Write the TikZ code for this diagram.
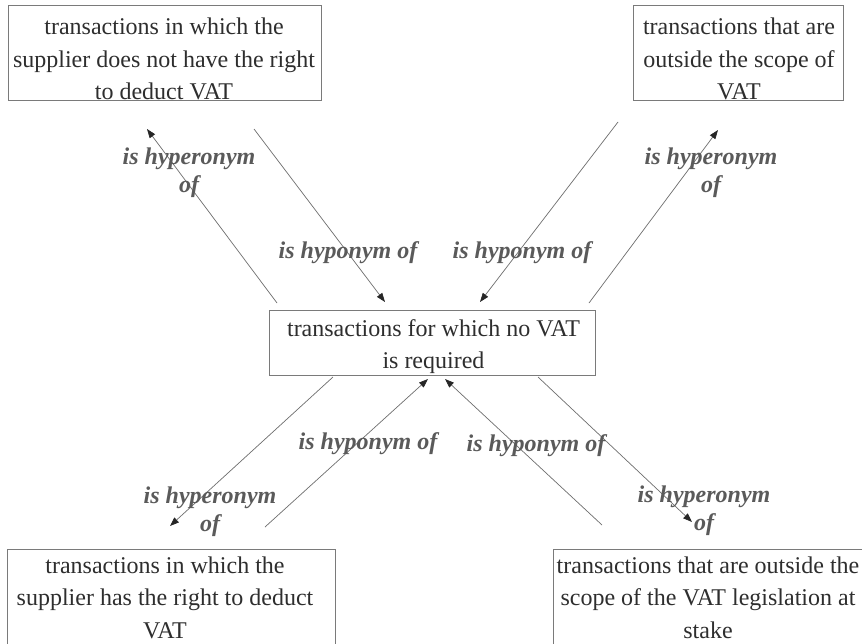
\documentclass[tikz,border=0pt]{standalone}
\usepackage{fontspec}
\setmainfont{Liberation Serif}
\usetikzlibrary{arrows.meta}
\definecolor{boxline}{HTML}{7A7A7A}
\definecolor{boxtxt}{HTML}{2E2E2E}
\definecolor{labtxt}{HTML}{5A5A5A}
\definecolor{conline}{HTML}{6E6E6E}
\definecolor{tipcol}{HTML}{262626}
\tikzset{
  box/.style={draw=boxline, line width=0.9pt, rectangle, inner sep=0pt},
  boxtext/.style={text=boxtxt, align=center, inner sep=0pt, font=\fontsize{24}{32.5}\selectfont},
  lab/.style={text=labtxt, align=center, inner sep=0pt, font=\fontsize{24}{28}\selectfont\bfseries\itshape},
  conn/.style={draw=conline, line width=0.7pt, -{Triangle[length=9pt,width=6.5pt,color=tipcol,fill=tipcol]}}
}
\begin{document}
\begin{tikzpicture}[x=1pt,y=-1pt]
\useasboundingbox (0,0) rectangle (862,643);
\fill[white] (0,0) rectangle (862,643);

% boxes
\node[box, minimum width=313pt, minimum height=95pt] (b1) at (164.5,52.5) {};
\node[box, minimum width=210pt, minimum height=95pt] (b2) at (738,52.5) {};
\node[box, minimum width=326pt, minimum height=65pt] (b0) at (432.5,343) {};
\node[box, minimum width=328pt, minimum height=110pt] (b3) at (171,604) {};
\node[box, minimum width=330pt, minimum height=110pt] (b4) at (718,604) {};

% box texts
\node[boxtext] (t1) at (164,59.3) {transactions in which the\\supplier does not have the right\\to deduct VAT};
\node[boxtext] (t2) at (739,59.3) {transactions that are\\outside the scope of\\VAT};
\node[boxtext] (t0) at (433.5,346.4) {transactions for which no VAT\\is required};
\node[boxtext] (t3) at (165,597.5) {transactions in which the\\supplier has the right to deduct\\VAT};
\node[boxtext] (t4) at (708,597.5) {transactions that are outside the\\scope of the VAT legislation at\\stake};

% connector end points
\coordinate (a1s) at (277,303); \coordinate (a1e) at (147,129);
\coordinate (a2s) at (254,129); \coordinate (a2e) at (385,302);
\coordinate (a3s) at (618,122); \coordinate (a3e) at (480,302);
\coordinate (a4s) at (589,303); \coordinate (a4e) at (718,130);
\coordinate (a5s) at (333,377); \coordinate (a5e) at (170,526);
\coordinate (a6s) at (265,527); \coordinate (a6e) at (428,379);
\coordinate (a7s) at (602,525); \coordinate (a7e) at (445,379);
\coordinate (a8s) at (538,377); \coordinate (a8e) at (692,522);

\draw[conn] (a1s) -- (a1e);
\draw[conn] (a2s) -- (a2e);
\draw[conn] (a3s) -- (a3e);
\draw[conn] (a4s) -- (a4e);
\draw[conn] (a5s) -- (a5e);
\draw[conn] (a6s) -- (a6e);
\draw[conn] (a7s) -- (a7e);
\draw[conn] (a8s) -- (a8e);

% labels
\node[lab] (l1) at (189,172.5) {is hyperonym\\of};
\node[lab] (l2) at (348,252.5) {is hyponym of};
\node[lab] (l3) at (522,252.5) {is hyponym of};
\node[lab] (l4) at (711,173) {is hyperonym\\of};
\node[lab] (l5) at (368,444) {is hyponym of};
\node[lab] (l6) at (536,445.5) {is hyponym of};
\node[lab] (l7) at (210,512) {is hyperonym\\of};
\node[lab] (l8) at (704,511) {is hyperonym\\of};
\end{tikzpicture}
\end{document}
